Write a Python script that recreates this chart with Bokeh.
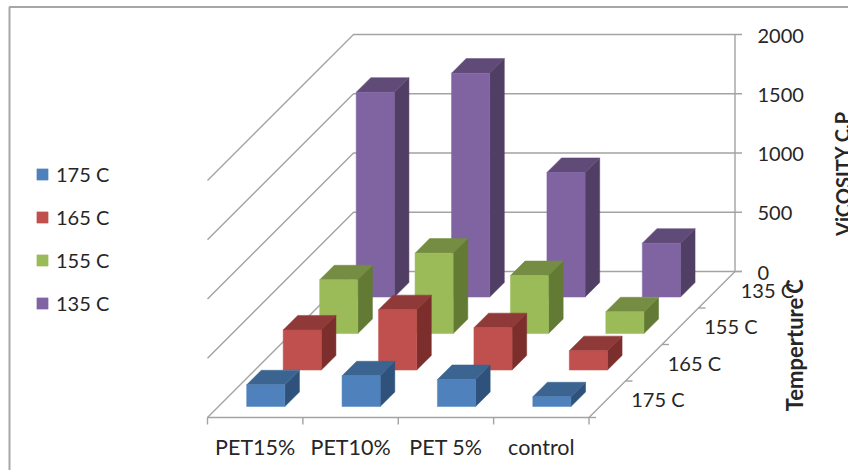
from bokeh.core.properties import value
from bokeh.embed import file_html
from bokeh.models import Legend, LegendItem, Range1d
from bokeh.plotting import figure
from bokeh.resources import INLINE

categories = ["PET15%", "PET10%", "PET 5%", "control"]
series_names = ["175 C", "165 C", "155 C", "135 C"]
viscosity_175 = [183, 259, 228, 82]
viscosity_165 = [338, 509, 357, 163]
viscosity_155 = [453, 678, 489, 183]
viscosity_135 = [1728, 1889, 1051, 454]
value_ticks = [0, 500, 1000, 1500, 2000]

front_colors = ["#4F81BD", "#C0504D", "#9BBB59", "#8064A2"]
top_colors = ["#3C6491", "#8F3A38", "#758D43", "#5F4A78"]
side_colors = ["#2F527C", "#7B2E2C", "#637A35", "#513E64"]

WIDTH, HEIGHT = 848, 470
CAT_PX = 95.375        # pixels per category along the floor
VAL_PX = 0.1185        # pixels per viscosity unit
DEPTH_PX = 36.5        # oblique shift per temperature row
ORIGIN_X, ORIGIN_Y = 353, 271   # back-left floor corner on the page
GAP = 0.3              # space on either side of a bar, in category units
BAR_NUDGE = 0.004      # small leftward offset of the bars on the floor

SHEAR_X = DEPTH_PX / CAT_PX
SHEAR_Y = DEPTH_PX / VAL_PX
FONT = "Lato"
INK = "#262626"
RULE = "#A3A3A3"


def project(cat, depth, val):
    """Oblique projection: depth 0 is the back wall and grows towards the viewer."""
    return cat - depth * SHEAR_X, val - depth * SHEAR_Y


def page_x(px):
    return (px - ORIGIN_X) / CAT_PX


def page_y(py):
    return (ORIGIN_Y - py) / VAL_PX


p = figure(
    width=WIDTH, height=HEIGHT, output_backend="svg", toolbar_location=None,
    x_range=Range1d(page_x(0), page_x(WIDTH)), y_range=Range1d(page_y(HEIGHT), page_y(0)),
    min_border=0, outline_line_color=None, background_fill_color="white",
)
p.xaxis.visible = False
p.yaxis.visible = False
p.grid.visible = False


def rule(points, width=1.4, color=RULE):
    xs, ys = zip(*points)
    p.line(list(xs), list(ys), line_color=color, line_width=width)


n_cat = len(categories)
n_rows = len(series_names)

# Outer frame of the chart area
rule([(page_x(9), page_y(HEIGHT)), (page_x(9), page_y(6.5)), (page_x(WIDTH), page_y(6.5))], width=2, color="#A6A6A6")
# Walls: value gridlines run along the left wall and the back wall
for v in value_ticks:
    rule([project(0, n_rows, v), project(0, 0, v), project(n_cat, 0, v)])
rule([project(n_cat, 0, 0), project(n_cat, 0, value_ticks[-1])])
# Floor edges
rule([project(0, n_rows, 0), project(n_cat, n_rows, 0), project(n_cat, 0, 0)])

# Tick marks on the three axes
TICK_X = 7 / CAT_PX
TICK_V = 7 / VAL_PX
for v in value_ticks:
    x, y = project(n_cat, 0, v)
    rule([(x, y), (x + TICK_X, y)])
for i in range(n_cat + 1):
    x, y = project(i, n_rows, 0)
    rule([(x, y), (x, y - TICK_V)])
for r in range(n_rows + 1):
    x, y = project(n_cat, r, 0)
    rule([(x, y), (x + TICK_X, y)])

# Bars, painted from the back row to the front row
rows = [viscosity_175, viscosity_165, viscosity_155, viscosity_135]
legend_items = {}
for s in range(n_rows - 1, -1, -1):
    depth_front = (n_rows - 1 - s) + 1 - GAP
    depth_back = (n_rows - 1 - s) + GAP
    front_x, front_y, top_x, top_y, side_x, side_y = [], [], [], [], [], []
    for i, v in enumerate(rows[s]):
        c0, c1 = i + GAP - BAR_NUDGE, i + 1 - GAP - BAR_NUDGE
        a = project(c0, depth_front, 0)
        b = project(c1, depth_front, 0)
        c = project(c1, depth_front, v)
        d = project(c0, depth_front, v)
        e = project(c1, depth_back, v)
        f = project(c0, depth_back, v)
        g = project(c1, depth_back, 0)
        front_x.append([q[0] for q in (a, b, c, d)])
        front_y.append([q[1] for q in (a, b, c, d)])
        top_x.append([q[0] for q in (d, c, e, f)])
        top_y.append([q[1] for q in (d, c, e, f)])
        side_x.append([q[0] for q in (b, g, e, c)])
        side_y.append([q[1] for q in (b, g, e, c)])
    p.patches(side_x, side_y, fill_color=side_colors[s], line_color=side_colors[s], line_width=0.5)
    p.patches(top_x, top_y, fill_color=top_colors[s], line_color=top_colors[s], line_width=0.5)
    legend_items[s] = p.patches(front_x, front_y, fill_color=front_colors[s], line_color=front_colors[s], line_width=0.5)


def label(xs, ys, texts, size="20px", align="left", angle=0.0, style="normal"):
    p.text(xs, ys, text=texts, text_font=value(FONT), text_font_size=size, text_color=INK,
           text_align=align, text_baseline="middle", angle=angle, text_font_style=style)


# Value labels right of the back wall
label([page_x(757)] * len(value_ticks), [project(n_cat, 0, v)[1] - 1 / VAL_PX for v in value_ticks],
      [str(v) for v in value_ticks])
# Category labels below the front edge
label([project(i + 0.5, n_rows, 0)[0] for i in range(n_cat)], [page_y(446)] * n_cat, categories,
      align="center", size="21.5px")
# Temperature labels beside the right floor edge
label([project(n_cat, n_rows - 0.5 - s, 0)[0] + 24 / CAT_PX for s in range(n_rows)],
      [project(n_cat, n_rows - 0.5 - s, 0)[1] for s in range(n_rows)], series_names)

# Axis titles
label([page_x(842)], [page_y(173)], ["ViCOSITY C.P"], align="center", angle=1.5708, style="bold")
label([page_x(794)], [page_y(354)], ["Temperture"], align="center", angle=1.5708, style="bold", size="22px")
label([page_x(794)], [page_y(286)], ["C"], align="center", angle=1.5708, style="bold", size="22px")

legend = Legend(
    items=[LegendItem(label=name, renderers=[legend_items[s]]) for s, name in enumerate(series_names)],
    location=(35, HEIGHT - 315), orientation="vertical", background_fill_alpha=0, border_line_color=None,
    padding=0, margin=0, spacing=19, glyph_width=14, glyph_height=14, label_standoff=7,
    label_text_font=FONT, label_text_font_size="20px", label_text_color=INK, label_height=24,
)
p.add_layout(legend)

open("out.html", "w").write(file_html(p, INLINE))
